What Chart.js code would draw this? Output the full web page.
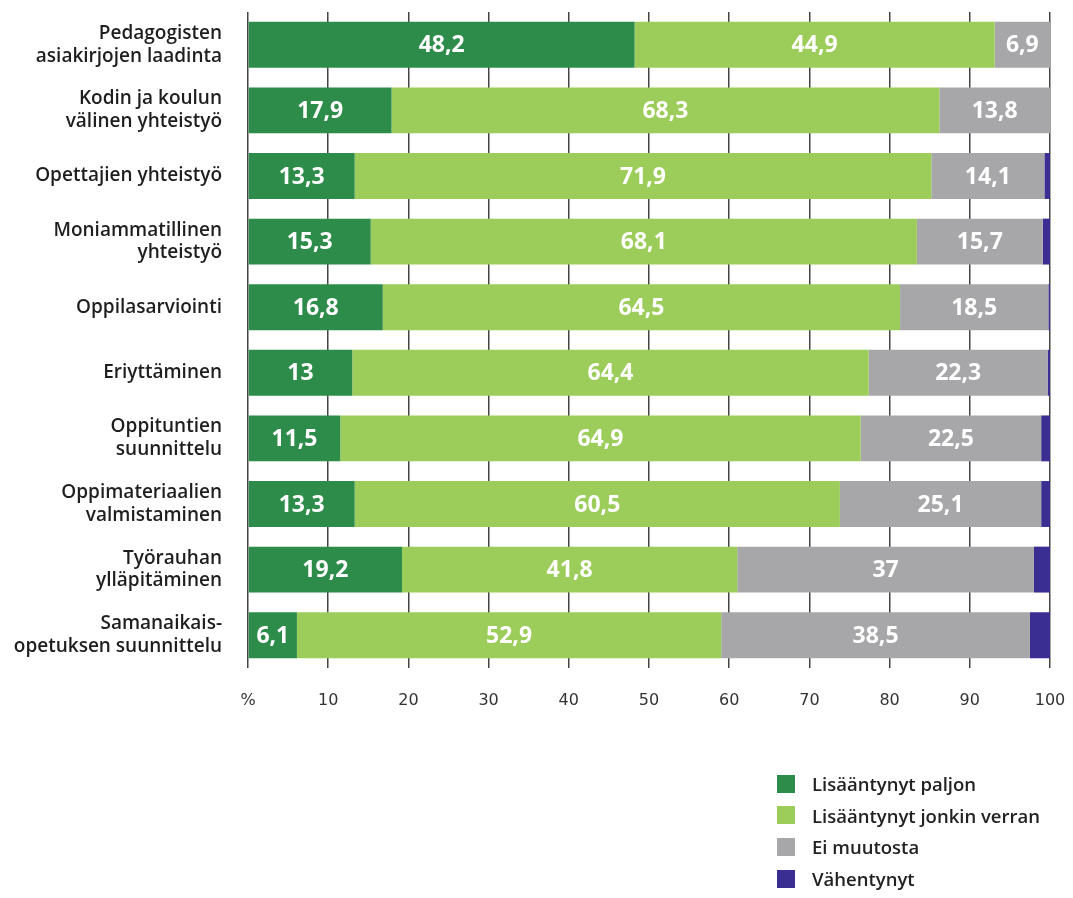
<!DOCTYPE html>
<html lang="fi">
<head>
<meta charset="UTF-8">
<title>Muutokset opettajan työssä</title>
<script src="https://cdn.jsdelivr.net/npm/chart.js"></script>
<style>
  html, body { margin: 0; padding: 0; background: #fff; }
  #wrap { position: relative; width: 1073px; height: 898px; }
  #legend { position: absolute; left: 777px; top: 768px; font-family: "Open Sans", sans-serif; font-weight: 600; font-size: 18.5px; color: #222; }
  #legend div { display: flex; align-items: center; height: 31.6px; }
  #legend span.box { width: 18px; height: 18px; margin-right: 17px; display: inline-block; }
</style>
</head>
<body>
<div id="wrap">
  <canvas id="chart" width="1073" height="898"></canvas>
  <div id="legend"></div>
</div>
<script>
const categories = [
  ["Pedagogisten", "asiakirjojen laadinta"],
  ["Kodin ja koulun", "välinen yhteistyö"],
  "Opettajien yhteistyö",
  ["Moniammatillinen", "yhteistyö"],
  "Oppilasarviointi",
  "Eriyttäminen",
  ["Oppituntien", "suunnittelu"],
  ["Oppimateriaalien", "valmistaminen"],
  ["Työrauhan", "ylläpitäminen"],
  ["Samanaikais-", "opetuksen suunnittelu"]
];
const seriesNames = ["Lisääntynyt paljon", "Lisääntynyt jonkin verran", "Ei muutosta", "Vähentynyt"];
const paljon   = [48.2, 17.9, 13.3, 15.3, 16.8, 13.0, 11.5, 13.3, 19.2, 6.1];
const jonkin   = [44.9, 68.3, 71.9, 68.1, 64.5, 64.4, 64.9, 60.5, 41.8, 52.9];
const eiMuutos = [6.9, 13.8, 14.1, 15.7, 18.5, 22.3, 22.5, 25.1, 37.0, 38.5];
const vahent   = [0, 0, 0.7, 0.9, 0.2, 0.3, 1.1, 1.1, 2.0, 2.5];
const xTicks = [0, 10, 20, 30, 40, 50, 60, 70, 80, 90, 100];
const colors = ["#2e8c4a", "#9ccd5b", "#a7a7a9", "#3a2e93"];

const fmt = v => String(v).replace('.', ',');

// white value labels centred in the segments (not for the last series)
const barLabels = {
  id: 'barLabels',
  afterDatasetsDraw(chart) {
    const ctx = chart.ctx;
    ctx.save();
    ctx.fillStyle = '#fff';
    ctx.font = '700 23px "Open Sans", sans-serif';
    ctx.textAlign = 'center';
    ctx.textBaseline = 'middle';
    chart.data.datasets.forEach((ds, i) => {
      if (i > 2) return;
      chart.getDatasetMeta(i).data.forEach((bar, j) => {
        const cx = (bar.x + bar.base) / 2;
        ctx.fillText(fmt(ds.data[j]), cx, bar.y + 1);
      });
    });
    ctx.restore();
  }
};

const chart = new Chart(document.getElementById('chart'), {
  type: 'bar',
  data: {
    labels: categories,
    datasets: [
      { label: seriesNames[0], data: paljon, backgroundColor: colors[0] },
      { label: seriesNames[1], data: jonkin, backgroundColor: colors[1] },
      { label: seriesNames[2], data: eiMuutos, backgroundColor: colors[2] },
      { label: seriesNames[3], data: vahent, backgroundColor: colors[3] }
    ]
  },
  options: {
    indexAxis: 'y',
    responsive: false,
    animation: false,
    layout: { padding: { top: 12, right: 23, left: 0, bottom: 180 } },
    datasets: { bar: { barPercentage: 0.7, categoryPercentage: 1.0, borderWidth: 0 } },
    plugins: {
      legend: { display: false },
      tooltip: { enabled: false }
    },
    scales: {
      x: {
        stacked: true,
        min: 0,
        max: 100,
        afterFit: s => { s.height = 50; s.paddingLeft = 0; s.paddingRight = 0; },
        afterBuildTicks: s => { s.ticks = xTicks.map(v => ({ value: v })); },
        grid: { color: '#444', lineWidth: 1.5, drawTicks: false },
        border: { display: false },
        ticks: {
          padding: 23,
          color: '#333',
          font: { family: '"DejaVu Sans", sans-serif', size: 16 },
          callback: v => v === 0 ? '%' : v
        }
      },
      y: {
        stacked: true,
        afterFit: s => { s.width = 248; s.paddingTop = 0; s.paddingBottom = 0; },
        grid: { display: false, drawTicks: false },
        border: { display: false },
        ticks: {
          padding: 26,
          color: '#1e1e1e',
          font: { family: '"Open Sans", sans-serif', size: 19, weight: '600', lineHeight: 1.2 }
        }
      }
    }
  },
  plugins: [barLabels]
});

const legend = document.getElementById('legend');
chart.data.datasets.forEach(ds => {
  const row = document.createElement('div');
  const box = document.createElement('span');
  box.className = 'box';
  box.style.background = ds.backgroundColor;
  row.appendChild(box);
  row.appendChild(document.createTextNode(ds.label));
  legend.appendChild(row);
});
</script>
</body>
</html>
